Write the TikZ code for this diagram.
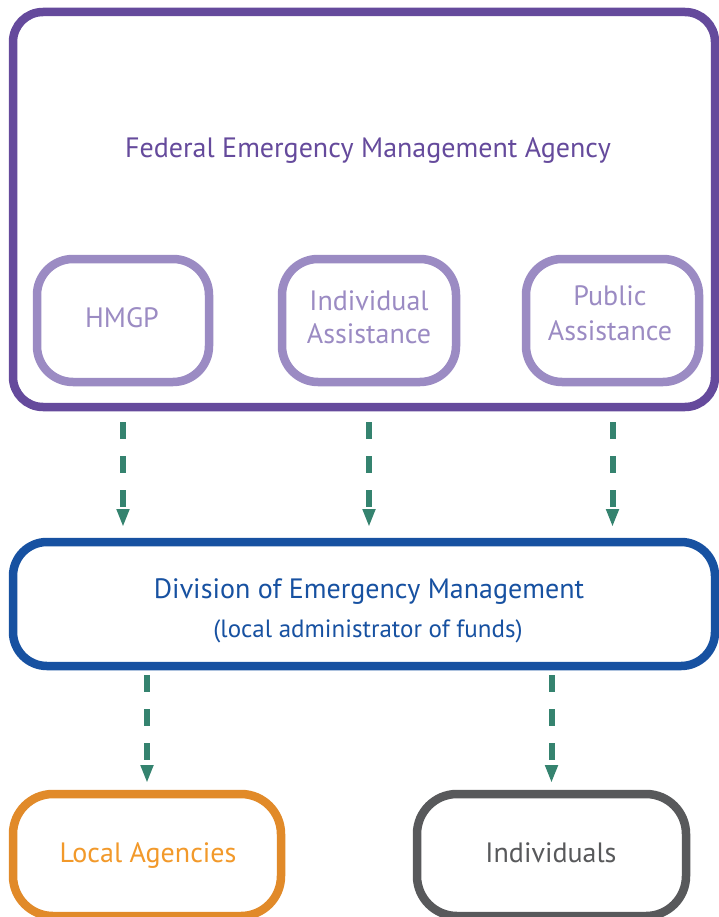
\documentclass[tikz,border=0pt]{standalone}
\usepackage{fontspec}
\setmainfont{PT Sans}
\usetikzlibrary{arrows.meta}
\definecolor{femac}{HTML}{654A9C}
\definecolor{subc}{HTML}{9B8BC3}
\definecolor{demc}{HTML}{1751A1}
\definecolor{flowc}{HTML}{35836F}
\definecolor{orangec}{HTML}{E18A29}
\definecolor{orangetxt}{HTML}{F2992A}
\definecolor{grayc}{HTML}{58595B}
\begin{document}
\begin{tikzpicture}[x=1pt,y=-1pt,
  box/.style={draw, line width=8.5pt, inner sep=0pt, outer sep=0pt, fill=white},
  subbox/.style={box, draw=subc, minimum width=172pt, minimum height=123pt, rounded corners=36pt},
  lbl/.style={anchor=base, inner sep=0pt, align=center, font=\fontsize{28}{34}\selectfont},
  flow/.style={draw=flowc, line width=6pt, dash pattern=on 17pt off 17pt,
    -{Triangle[width=12pt,length=18pt]}}
]
\useasboundingbox (0,0) rectangle (719,917);
\clip (0,0) rectangle (719,917);
% FEMA
\node[box, draw=femac, minimum width=702pt, minimum height=395pt, rounded corners=30pt] (fema) at (364,209.5) {};
\node[lbl, text=femac] (femat) at (368,158) {Federal Emergency Management Agency};
\node[subbox] (hmgp) at (123,320.5) {};
\node[subbox, minimum width=174pt] (ia) at (369,320.5) {};
\node[subbox, minimum width=173pt] (pa) at (612.5,320.5) {};
\node[lbl, text=subc] (hmgpt) at (122,327) {HMGP};
\node[lbl, text=subc, font=\fontsize{28}{33}\selectfont] (iat) at (369,343) {Individual\\Assistance};
\node[lbl, text=subc, font=\fontsize{28}{35}\selectfont] (pat) at (610,340) {Public\\Assistance};
% DEM
\node[box, draw=demc, minimum width=702pt, minimum height=124pt, rounded corners=34pt] (dem) at (364,604) {};
\node[lbl, text=demc] (demt) at (369,598) {Division of Emergency Management};
\node[lbl, text=demc, font=\fontsize{25}{30}\selectfont] (demsub) at (368,637) {(local administrator of funds)};
% bottom
\node[box, draw=orangec, minimum width=268pt, minimum height=122pt, rounded corners=40pt] (la) at (147,855) {};
\node[box, draw=grayc, minimum width=269pt, minimum height=122pt, rounded corners=40pt] (ind) at (551.5,855) {};
\node[lbl, text=orangetxt] (lat) at (148,862) {Local Agencies};
\node[lbl, text=grayc] (indt) at (551,862) {Individuals};
% arrows
\foreach \n in {hmgp,ia,pa}{
  \draw[flow] ([yshift=-15pt]\n.south |- fema.south) -- ([yshift=15pt]\n.south |- dem.north);
}
\foreach \n in {la,ind}{
  \draw[flow] ([yshift=-9pt]\n.north |- dem.south) -- ([yshift=11pt]\n.north);
}
\end{tikzpicture}
\end{document}
